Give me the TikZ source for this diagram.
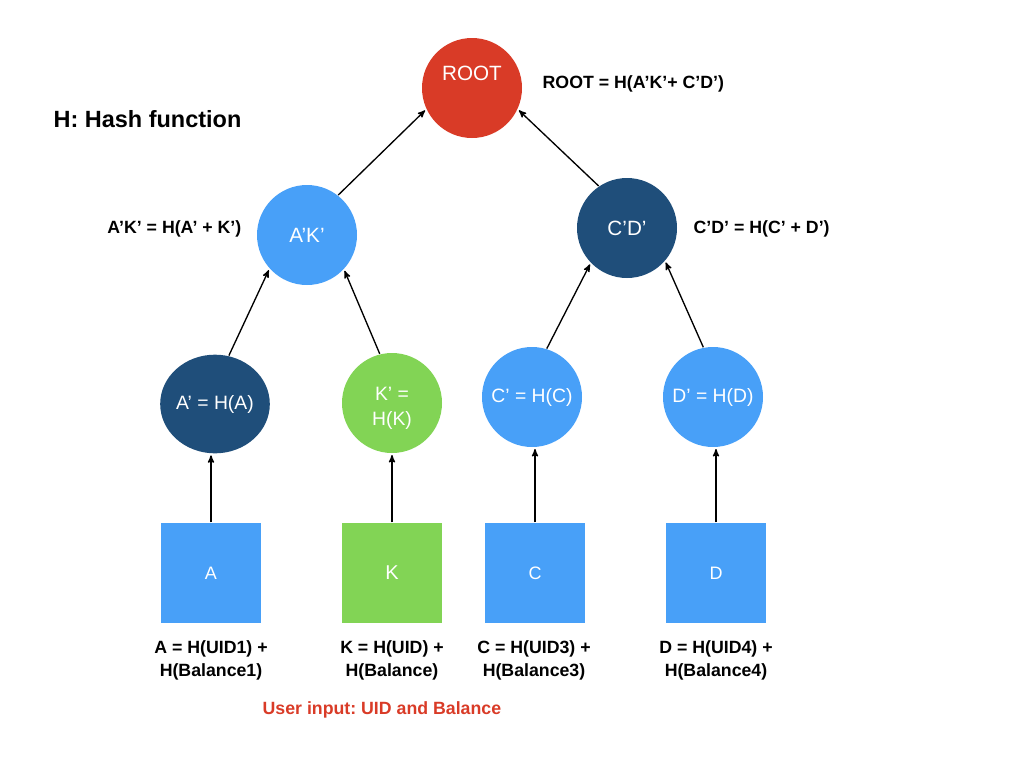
\documentclass[tikz,border=0pt]{standalone}
\usepackage{fontspec}
\setmainfont{Liberation Sans}
\frenchspacing
\usetikzlibrary{arrows,positioning,shapes.geometric}
\definecolor{rootred}{RGB}{217,59,39}
\definecolor{darkblue}{RGB}{31,78,122}
\definecolor{lightblue}{RGB}{72,160,248}
\definecolor{leafgreen}{RGB}{130,212,85}

\begin{document}
\begin{tikzpicture}[x=0.75pt,y=-0.75pt,->,>=stealth',shorten >=1pt,line width=1pt,
        hashnode/.style={circle,minimum size=75pt,inner sep=0pt,text=white,align=center,
          font=\fontsize{14.5}{18.75}\selectfont},
        leaf/.style={rectangle,minimum size=75pt,inner sep=0pt,text=white,
          font=\fontsize{13.5}{16}\selectfont},
        eq/.style={inner sep=0pt,align=center,font=\bfseries\fontsize{13.3}{17.25}\selectfont}]
  \useasboundingbox (0,0) rectangle (1024,768);

  % hash tree
  \node[hashnode,fill=rootred,font=\fontsize{15.5}{18}\selectfont] (root) at (472,88) {\raisebox{5.5pt}[0pt][0pt]{ROOT}};
  \node[hashnode,fill=lightblue,font=\fontsize{15.5}{18}\selectfont] (ak) at (307,235) {A’K’};
  \node[hashnode,fill=darkblue,font=\fontsize{15.5}{18}\selectfont] (cd) at (627,228) {C’D’};
  \node[hashnode,ellipse,fill=darkblue,minimum width=81pt,minimum height=74pt] (ap) at (215,404) {A’ = H(A)};
  \node[hashnode,fill=leafgreen] (kp) at (392,403) {\rule{0pt}{18pt}K’ =\\H(K)};
  \node[hashnode,fill=lightblue] (cp) at (532,397) {C’ = H(C)};
  \node[hashnode,fill=lightblue] (dp) at (713,397) {D’ = H(D)};

  % user data
  \node[leaf,fill=lightblue] (a) at (211,573) {A};
  \node[leaf,fill=leafgreen,font=\fontsize{15}{18}\selectfont] (k) at (392,573) {K};
  \node[leaf,fill=lightblue] (c) at (535,573) {C};
  \node[leaf,fill=lightblue] (d) at (716,573) {D};

  % equations
  \node[eq,font=\bfseries\fontsize{17.6}{20}\selectfont,anchor=west] (title) at (53,119) {H: Hash function};
  \node[eq,anchor=west] (rooteq) at (542,84) {ROOT = H(A’K’+ C’D’)};
  \node[eq,anchor=east] (akeq) at (242,229) {A’K’ = H(A’ + K’)};
  \node[eq,anchor=west] (cdeq) at (693,229) {C’D’ = H(C’ + D’)};
  \node[eq] (aeq) at (211,660) {A = H(UID1) +\\H(Balance1)};
  \node[eq] (keq) at (392,660) {K = H(UID) +\\H(Balance)};
  \node[eq] (ceq) at (534,660) {C = H(UID3) +\\H(Balance3)};
  \node[eq] (deq) at (716,660) {D = H(UID4) +\\H(Balance4)};
  \node[eq,text=rootred,anchor=west] (input) at (262,710) {User input: UID and Balance};

  \draw (a.north) -- (a.north |- ap.south);
  \draw (k.north) -- (k.north |- kp.south);
  \draw (c.north) -- (c.north |- cp.south);
  \draw (d.north) -- (d.north |- dp.south);
  \draw (ap.74) -- (ak.222);
  \draw (kp.104) -- (ak.317);
  \draw (cp.73) -- (cd.224);
  \draw (dp.101) -- (cd.319);
  \draw (ak.52) -- (root.205);
  \draw (cd.124) -- (root.335);
\end{tikzpicture}
\end{document}
